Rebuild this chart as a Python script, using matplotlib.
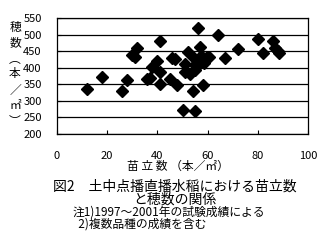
import matplotlib
matplotlib.use("Agg")
import matplotlib.pyplot as plt

plt.rcParams['font.family'] = ['Noto Sans CJK JP', 'DejaVu Sans']

# 苗立数 (本/m2) and 穂数 (本/m2)
seedlings = [12, 18, 26, 28, 30, 31, 32, 36, 37, 38, 40, 41, 41, 41, 45, 46, 47,
             48, 50, 51, 51, 52, 53, 54, 55, 56, 57, 55, 54.6, 55.6, 56.7, 57.4,
             58.3, 59.6, 60.7, 57, 58.6, 55.9, 54.8, 58, 64, 67, 72, 80, 82, 86,
             87, 88, 88.6]
panicles = [335, 373, 331, 363, 437, 433, 458, 365, 370, 403, 421, 480, 388, 351,
            365, 428, 425, 348, 272, 411, 388, 446, 381, 331, 270, 519, 461, 393,
            428, 421, 425, 435, 428, 431, 433, 413, 415, 408, 408, 348, 499, 428,
            456, 487, 445, 481, 458, 451, 445]

xticks = [0, 20, 40, 60, 80, 100]
yticks = [200, 250, 300, 350, 400, 450, 500, 550]

W, H = 323, 250
fig = plt.figure(figsize=(W / 100, H / 100), dpi=100)
ax = fig.add_axes([57 / W, 1 - 134 / H, 251 / W, 116 / H])

ax.plot(seedlings, panicles, 'D', color='black', markersize=6, linestyle='none')

ax.set_xlim(0, 100)
ax.set_ylim(200, 550)
ax.set_xticks(xticks)
ax.set_yticks(yticks)
ax.grid(axis='y', color='black', linewidth=0.9)
ax.set_axisbelow(True)
for s in ax.spines.values():
    s.set_linewidth(0.9)
ax.tick_params(axis='x', direction='in', length=3, pad=12, labelsize=8)
ax.tick_params(axis='y', direction='in', length=3, pad=11, labelsize=8)


def ftext(x, y, s, **kw):
    fig.text(x / W, 1 - y / H, s, **kw)


# vertical y label, one character per row
ylab = ['穂', '数', '︵', '本', '／', '㎡', '︶']
ypos = [27, 43, 59, 74, 90, 106, 122]
for ch, yy in zip(ylab, ypos):
    ftext(15, yy, ch, ha='center', va='center', fontsize=8.5)

ftext(178, 166, '苗 立 数 （本／㎡）', ha='center', va='center', fontsize=8.5)
ftext(175, 193, '図2　土中点播直播水稲における苗立数\nと穂数の関係',
      ha='center', va='center', multialignment='center', fontsize=10,
      linespacing=0.95)
ftext(73, 218, '注1)1997～2001年の試験成績による\n  2)複数品種の成績を含む',
      ha='left', va='center', multialignment='left', fontsize=8.5,
      linespacing=0.9)

fig.savefig('out.png', dpi=100)
